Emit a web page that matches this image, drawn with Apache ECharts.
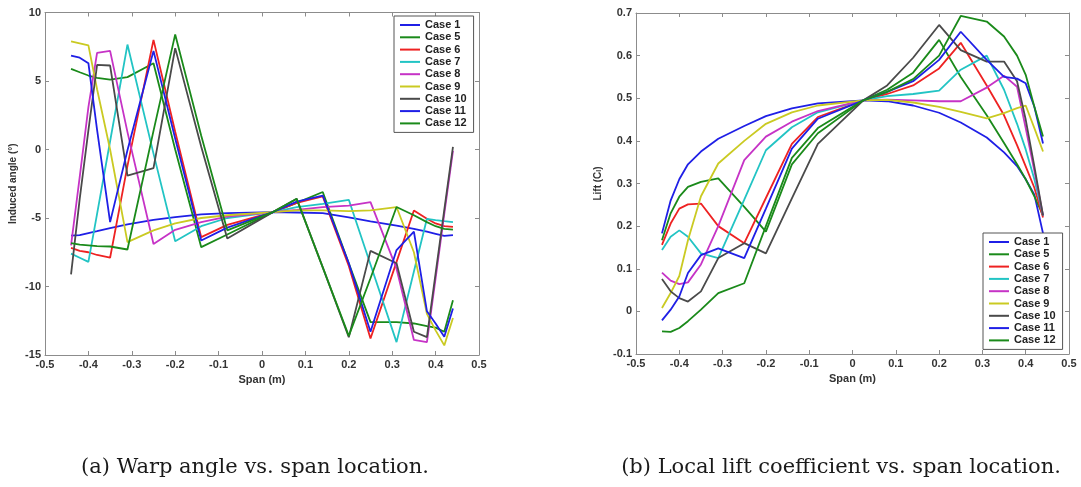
<!DOCTYPE html>
<html><head><meta charset="utf-8">
<script src="https://cdn.jsdelivr.net/npm/echarts@6/dist/echarts.min.js"></script>
<style>html,body{margin:0;padding:0;background:#fff}#c{width:1081px;height:487px}</style>
</head><body><div id="c"></div>
<script>
// Span stations (m)
const spanX = [-0.44,-0.42,-0.40,-0.38,-0.35,-0.31,-0.25,-0.20,-0.14,-0.08,0.025,0.08,0.14,0.20,0.25,0.31,0.35,0.38,0.40,0.42,0.44];
const caseNames = ['Case 1','Case 5','Case 6','Case 7','Case 8','Case 9','Case 10','Case 11','Case 12'];

// (a) Induced angle (deg)
const angleCase1  = [-6.28,-6.25,-6.1,-5.96,-5.74,-5.47,-5.13,-4.94,-4.74,-4.65,-4.57,-4.6,-4.65,-4.95,-5.25,-5.55,-5.8,-6.0,-6.15,-6.3,-6.25];
const angleCase5  = [5.89,5.64,5.4,5.23,5.1,5.28,6.3,0.0,-7.13,-6.2,-4.57,-3.9,-3.1,-8.3,-12.6,-12.6,-12.7,-12.9,-13.0,-13.3,-11.0];
const angleCase6  = [-7.18,-7.4,-7.5,-7.7,-7.9,-1.2,8.0,1.3,-6.4,-5.5,-4.57,-3.9,-3.43,-8.5,-13.8,-8.2,-4.45,-5.06,-5.4,-5.6,-5.65];
const angleCase7  = [-7.6,-7.9,-8.2,-4.7,0.6,7.66,-0.3,-6.7,-5.6,-5.0,-4.57,-4.2,-3.97,-3.67,-8.4,-14.06,-8.9,-5.06,-5.15,-5.23,-5.3];
const angleCase8  = [-7.0,-2.0,3.1,7.06,7.2,1.27,-6.9,-5.86,-5.3,-4.9,-4.57,-4.4,-4.2,-4.1,-3.84,-8.7,-13.9,-14.06,-9.4,-4.7,-0.1];
const angleCase9  = [7.9,7.75,7.6,4.4,0.0,-6.76,-5.9,-5.4,-5.0,-4.8,-4.57,-4.45,-4.45,-4.5,-4.45,-4.2,-7.5,-12.0,-13.2,-14.3,-12.3];
const angleCase10 = [-9.12,-3.6,1.4,6.18,6.13,-1.9,-1.36,7.4,0.2,-6.5,-4.57,-3.6,-8.6,-13.7,-7.4,-8.3,-13.3,-13.7,-9.05,-4.4,0.2];
const angleCase11 = [6.86,6.7,6.3,1.44,-5.3,-0.05,7.2,0.8,-6.64,-5.7,-4.57,-3.8,-3.36,-8.3,-13.3,-7.34,-6.0,-11.8,-12.7,-13.66,-11.6];
const angleCase12 = [-6.84,-6.95,-7.0,-7.05,-7.08,-7.3,1.36,8.4,1.0,-5.9,-4.57,-3.6,-8.6,-13.6,-9.4,-4.2,-4.8,-5.3,-5.6,-5.8,-5.85];

// (b) Local lift coefficient
const liftCase1  = [0.183,0.26,0.31,0.345,0.375,0.405,0.435,0.458,0.476,0.488,0.495,0.493,0.483,0.466,0.443,0.408,0.373,0.341,0.31,0.274,0.183];
const liftCase5  = [0.167,0.23,0.269,0.292,0.304,0.312,0.245,0.187,0.345,0.418,0.495,0.52,0.56,0.637,0.55,0.46,0.395,0.345,0.31,0.27,0.225];
const liftCase6  = [0.156,0.206,0.241,0.251,0.253,0.2,0.16,0.266,0.393,0.456,0.495,0.51,0.53,0.57,0.63,0.53,0.46,0.39,0.34,0.29,0.22];
const liftCase7  = [0.144,0.175,0.19,0.175,0.136,0.125,0.262,0.378,0.432,0.467,0.495,0.505,0.51,0.518,0.567,0.6,0.52,0.44,0.38,0.31,0.225];
const liftCase8  = [0.091,0.072,0.064,0.068,0.11,0.2,0.355,0.41,0.445,0.47,0.495,0.497,0.495,0.493,0.493,0.525,0.553,0.527,0.43,0.33,0.225];
const liftCase9  = [0.008,0.043,0.083,0.167,0.27,0.347,0.40,0.44,0.467,0.483,0.495,0.496,0.49,0.48,0.468,0.453,0.465,0.477,0.483,0.43,0.375];
const liftCase10 = [0.076,0.047,0.031,0.023,0.047,0.125,0.16,0.136,0.265,0.393,0.495,0.53,0.595,0.672,0.613,0.586,0.586,0.54,0.45,0.34,0.225];
const liftCase11 = [-0.021,0.004,0.035,0.09,0.132,0.148,0.125,0.241,0.382,0.452,0.495,0.515,0.54,0.59,0.656,0.59,0.55,0.546,0.535,0.48,0.394];
const liftCase12 = [-0.047,-0.048,-0.039,-0.023,0.004,0.043,0.066,0.2,0.36,0.43,0.495,0.515,0.545,0.6,0.693,0.68,0.645,0.6,0.555,0.48,0.41];

const xTicks = {min:-0.5, max:0.5, step:0.1};
const angleTicks = {min:-15, max:10, step:5};
const liftTicks = {min:-0.1, max:0.7, step:0.1};

const angleData = [angleCase1,angleCase5,angleCase6,angleCase7,angleCase8,angleCase9,angleCase10,angleCase11,angleCase12];
const liftData = [liftCase1,liftCase5,liftCase6,liftCase7,liftCase8,liftCase9,liftCase10,liftCase11,liftCase12];
const colors = ['#1f1fe6','#1a8a1a','#ee2222','#22c4c4','#c633c6','#caca22','#4a4a4a','#1f1fe6','#1a8a1a'];

const AX = '#8c8c8c';
const FONT = 'Liberation Sans, Arial, sans-serif';
const fmt = v => String(Math.round(v*10)/10);
const lbl = {fontSize:11, fontWeight:'bold', color:'#333', fontFamily:FONT};
function xAxis(g, pos, show, name){
  return {type:'value', gridIndex:g, position:pos, min:xTicks.min, max:xTicks.max, interval:xTicks.step,
    axisLine:{show:true, onZero:false, lineStyle:{color:AX, width:1}},
    axisTick:{show:true, inside:true, length:4, lineStyle:{color:AX}},
    axisLabel:Object.assign({show:show, margin:4, formatter:fmt}, lbl),
    splitLine:{show:false},
    name: show ? name : '', nameLocation:'middle', nameGap:19,
    nameTextStyle:{fontSize:11, fontWeight:'bold', color:'#333', fontFamily:FONT}};
}
function yAxis(g, pos, show, t, name, gap, rich){
  return {type:'value', gridIndex:g, position:pos, min:t.min, max:t.max, interval:t.step,
    axisLine:{show:true, onZero:false, lineStyle:{color:AX, width:1}},
    axisTick:{show:true, inside:true, length:4, lineStyle:{color:AX}},
    axisLabel:Object.assign({show:show, margin:4, formatter:fmt}, lbl),
    splitLine:{show:false},
    name: show ? name : '', nameLocation:'middle', nameGap:gap, nameRotate:90,
    nameTextStyle:{fontSize:10, fontWeight:'bold', color:'#333', fontFamily:FONT, rich:rich||{}}};
}

const series = [];
caseNames.forEach((n,i)=>{
  series.push({type:'line', name:n, xAxisIndex:0, yAxisIndex:0, data:spanX.map((x,k)=>[x,angleData[i][k]]),
    showSymbol:false, symbol:'none', lineStyle:{width:1.8, color:colors[i]}, itemStyle:{color:colors[i]}, silent:true});
});
caseNames.forEach((n,i)=>{
  series.push({type:'line', name:n, xAxisIndex:2, yAxisIndex:2, data:spanX.map((x,k)=>[x,liftData[i][k]]),
    showSymbol:false, symbol:'none', lineStyle:{width:1.8, color:colors[i]}, itemStyle:{color:colors[i]}, silent:true});
});

function legend(left, top){
  return {data:caseNames, orient:'vertical', left:left, top:top, icon:'rect', itemWidth:20, itemHeight:2,
    itemGap:0.3, padding:[3,7,3,6], backgroundColor:'#fff', borderColor:'#555', borderWidth:1, borderRadius:0,
    selectedMode:false, textStyle:{fontSize:11, fontWeight:'bold', color:'#222', lineHeight:12, fontFamily:FONT}};
}

const chart = echarts.init(document.getElementById('c'), null, {renderer:'canvas'});
chart.setOption({
  animation:false,
  backgroundColor:'#fff',
  grid:[{left:45, top:12.5, width:434, height:342.5}, {left:636, top:13, width:433, height:341}],
  xAxis:[xAxis(0,'bottom',true,'Span (m)'), xAxis(0,'top',false,''), xAxis(1,'bottom',true,'Span (m)'), xAxis(1,'top',false,'')],
  yAxis:[yAxis(0,'left',true,angleTicks,'Induced angle (°)',27), yAxis(0,'right',false,angleTicks,'',0),
         yAxis(1,'left',true,liftTicks,'Lift (C{s|l})',33,{s:{fontSize:7, fontWeight:'bold', color:'#333', verticalAlign:'bottom'}}), yAxis(1,'right',false,liftTicks,'',0)],
  legend:[legend(394,16), legend(983,233)],
  series:series,
  graphic:[
    {type:'text', style:{text:'(a) Warp angle vs. span location.', x:255, y:468, textAlign:'center', textVerticalAlign:'middle', font:'21px "DejaVu Serif", serif', fill:'#1a1a1a'}},
    {type:'text', style:{text:'(b) Local lift coefficient vs. span location.', x:841, y:468, textAlign:'center', textVerticalAlign:'middle', font:'21px "DejaVu Serif", serif', fill:'#1a1a1a'}}
  ]
});
</script></body></html>
